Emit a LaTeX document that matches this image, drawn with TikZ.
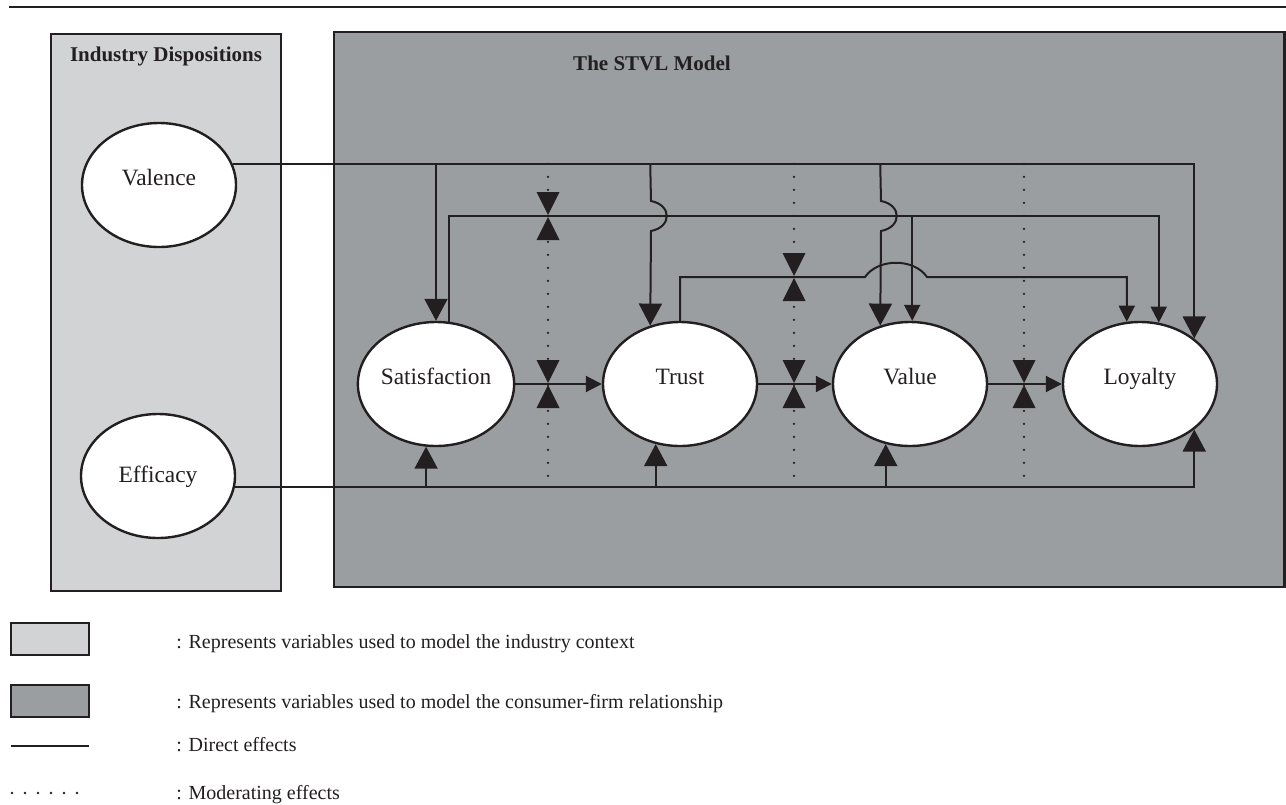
\documentclass[tikz,border=0pt]{standalone}
\usepackage{fontspec}
\setmainfont{Liberation Serif}
\usepackage{tikz}
\usetikzlibrary{arrows.meta,shapes.geometric}

\definecolor{ink}{RGB}{35,31,32}
\definecolor{indfill}{RGB}{210,211,213}
\definecolor{stvlfill}{RGB}{155,158,161}

\begin{document}
\begin{tikzpicture}[x=0.5pt, y=-0.5pt, auto,
    construct/.style ={ellipse, draw=ink, fill=white, line width=1.2pt, inner sep=0pt, minimum width=77pt, minimum height=62pt, text=ink, font=\fontsize{11.7}{14}\selectfont, text height=8pt, text depth=8pt},
    direct/.style ={draw=ink, line width=1pt, -{Triangle[width=11.5pt, length=11pt]}},
    relation/.style ={draw=ink, line width=1pt, -{Triangle[width=8pt, length=8pt]}},
    moderating/.style ={draw=ink, line width=1.3pt, line cap=round, dash pattern=on 0pt off 6.5pt},
    panel/.style ={draw=ink, line width=1.2pt},
    heading/.style ={text=ink, font=\bfseries\fontsize{10.5}{12}\selectfont},
    legendtext/.style ={text=ink, anchor=base west, inner sep=0pt, font=\fontsize{10}{12}\selectfont},
    moder/.pic ={\fill[ink] (-5.75pt,12pt) -- (5.75pt,12pt) -- (0pt,0.5pt) -- cycle;
                 \fill[ink] (-5.75pt,-12pt) -- (5.75pt,-12pt) -- (0pt,-0.5pt) -- cycle;}]
   \useasboundingbox (0,0) rectangle (1286,804);
   \draw[ink, line width=1pt] (9,7) -- (1286,7);

   \filldraw[panel, fill=indfill] (51,34) rectangle (281,591);
   \filldraw[panel, fill=stvlfill] (334,32) rectangle (1284.5,587);
   \node[heading] (indtitle) at (166,56) {Industry Dispositions};
   \node[heading] (stvltitle) at (652,63) {The STVL Model};

   \node[construct] (Valence) at (159,185) {Valence};
   \node[construct, text depth=2pt] (Efficacy) at (158,476) {Efficacy};
   \node[construct] (Satisfaction) at (436,384) {Satisfaction};
   \node[construct] (Trust) at (680,384) {Trust};
   \node[construct] (Value) at (910,384) {Value};
   \node[construct] (Loyalty) at (1140,384) {Loyalty};

   \coordinate (m1) at (548,384);
   \coordinate (m2) at (794,384);
   \coordinate (m3) at (1024,384);
   \coordinate (srail) at (0,216);
   \coordinate (trail) at (0,277);

   \draw[moderating] (m1 |- Valence.16) -- (m1 |- Efficacy.-8);
   \draw[moderating] (m2 |- Valence.16) -- (m2 |- Efficacy.-8);
   \draw[moderating] (m3 |- Valence.16) -- (m3 |- Efficacy.-8);

   \draw[direct] (Valence.16) -| (Loyalty.40);
   \draw[direct] (Satisfaction.north |- Valence.16) -- (Satisfaction.north);
   \draw[direct] (Trust.117 |- Valence.16) -- (651,201) .. controls (672,205) and (672,227) .. (651,231) -- (Trust.117);
   \draw[direct] (Value.117 |- Valence.16) -- (881,201) .. controls (902,205) and (902,227) .. (881,231) -- (Value.117);

   \draw[direct] (Efficacy.-8) -| (Loyalty.-40);
   \draw[direct] (Satisfaction.-99 |- Efficacy.-8) -- (Satisfaction.-99);
   \draw[direct] (Trust.-112 |- Efficacy.-8) -- (Trust.-112);
   \draw[direct] (Value.-112 |- Efficacy.-8) -- (Value.-112);

   \draw[relation] (Satisfaction.78) |- (srail -| Loyalty.73) -- (Loyalty.73);
   \draw[relation] (Value.88 |- srail) -- (Value.88);
   \draw[relation] (Trust.north) -- (Trust.north |- trail) -- (865,277) .. controls (878,258) and (914,258) .. (927,277) -- (Loyalty.102 |- trail) -- (Loyalty.102);

   \draw[relation] (Satisfaction.east) -- (Trust.west);
   \draw[relation] (Trust.east) -- (Value.west);
   \draw[relation] (Value.east) -- (Loyalty.west);

   \pic at (m1) {moder};
   \pic at (m2) {moder};
   \pic at (m3) {moder};
   \pic at (m1 |- srail) {moder};
   \pic at (m2 |- trail) {moder};

   % legend
   \filldraw[panel, fill=indfill] (11,623) rectangle (89,655);
   \filldraw[panel, fill=stvlfill] (11,685) rectangle (89,717);
   \draw[ink, line width=1pt] (11,746) -- (89,746);
   \draw[moderating] (12,793) -- (80,793);
   \node[legendtext] (lg1) at (176,648) {: Represents variables used to model the industry context};
   \node[legendtext] (lg2) at (176,708) {: Represents variables used to model the consumer-firm relationship};
   \node[legendtext] (lg3) at (176,751) {: Direct effects};
   \node[legendtext] (lg4) at (176,799) {: Moderating effects};
\end{tikzpicture}
\end{document}
